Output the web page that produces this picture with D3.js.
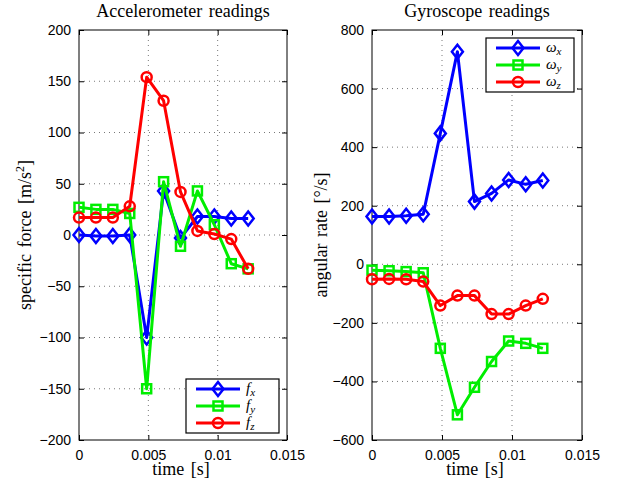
<!DOCTYPE html>
<html>
<head>
<meta charset="utf-8">
<script src="https://cdn.jsdelivr.net/npm/d3@7"></script>
<style>
  body { margin: 0; background: #fff; }
  svg { display: block; }
  .tick text { font-family: "Liberation Sans", Arial, sans-serif; font-size: 14px; fill: #000; }
  .lbl { font-family: "Liberation Serif", "Times New Roman", serif; font-size: 18px; word-spacing: 2px; }
</style>
</head>
<body>
<svg id="chart" width="623" height="487"></svg>
<script>
// sample times [s]
var times = [0, 0.00122, 0.00244, 0.00366, 0.00488, 0.0061, 0.00732, 0.00854, 0.00976, 0.01098, 0.0122];

// accelerometer [m/s^2]
var fx = [0, -1, -1, 0, -100, 43, -3, 18, 18, 16, 16];
var fy = [27, 25, 25, 21, -150, 52, -11, 43, 10, -28, -33];
var fz = [17, 17, 17, 28, 154, 131, 42, 4, 1, -4, -33];

// gyroscope [deg/s]
var wx = [163, 163, 166, 171, 447, 726, 214, 242, 288, 273, 286];
var wy = [-20, -22, -25, -29, -287, -514, -420, -332, -262, -270, -287];
var wz = [-51, -50, -51, -59, -141, -107, -107, -170, -170, -141, -118];

var xTicks = [0, 0.005, 0.01, 0.015];
var accTicks = [-200, -150, -100, -50, 0, 50, 100, 150, 200];
var gyrTicks = [-600, -400, -200, 0, 200, 400, 600, 800];

var svg = d3.select("#chart");

function drawPanel(opt) {
  var left = opt.left, right = opt.right, top = 30, bottom = 440;

  var x = d3.scaleLinear().domain([0, 0.015]).range([left, right]);
  var y = d3.scaleLinear().domain(opt.domain).range([bottom, top]);

  var g = svg.append("g");

  // dotted grid
  g.selectAll(".gx").data(xTicks.slice(1, -1)).enter().append("line")
    .attr("x1", d => x(d)).attr("x2", d => x(d))
    .attr("y1", top).attr("y2", bottom)
    .attr("stroke", "#555").attr("stroke-width", 0.8).attr("stroke-dasharray", "1,4");
  g.selectAll(".gy").data(opt.ticks.slice(1, -1)).enter().append("line")
    .attr("y1", d => y(d)).attr("y2", d => y(d))
    .attr("x1", left).attr("x2", right)
    .attr("stroke", "#555").attr("stroke-width", 0.8).attr("stroke-dasharray", "1,4");

  // axes, ticks pointing inward
  var fmt = function (d) { return d < 0 ? "\u2212" + Math.abs(d) : String(d); };
  var fmtX = function (d) { return d === 0 ? "0" : String(d); };

  g.append("g").attr("transform", "translate(0," + bottom + ")")
    .call(d3.axisBottom(x).tickValues(xTicks).tickSizeInner(-5).tickSizeOuter(0).tickPadding(10).tickFormat(fmtX))
    .call(a => a.select(".domain").remove());
  g.append("g").attr("transform", "translate(0," + top + ")")
    .call(d3.axisTop(x).tickValues(xTicks).tickSizeInner(-5).tickSizeOuter(0).tickFormat(""))
    .call(a => a.select(".domain").remove());
  g.append("g").attr("transform", "translate(" + left + ",0)")
    .call(d3.axisLeft(y).tickValues(opt.ticks).tickSizeInner(-5).tickSizeOuter(0).tickPadding(8).tickFormat(fmt))
    .call(a => a.select(".domain").remove());
  g.append("g").attr("transform", "translate(" + right + ",0)")
    .call(d3.axisRight(y).tickValues(opt.ticks).tickSizeInner(-5).tickSizeOuter(0).tickFormat(""))
    .call(a => a.select(".domain").remove());
  g.selectAll(".tick line").attr("stroke", "#000");

  g.append("rect")
    .attr("x", left).attr("y", top).attr("width", right - left).attr("height", bottom - top)
    .attr("fill", "none").attr("stroke", "#000").attr("stroke-width", 1);

  // series
  var line = d3.line().x((d, i) => x(times[i])).y(d => y(d));
  opt.series.forEach(function (s) {
    g.append("path").datum(s.values)
      .attr("d", line).attr("fill", "none")
      .attr("stroke", s.color).attr("stroke-width", 3).attr("stroke-linejoin", "round");
    var m = g.append("g");
    s.values.forEach(function (v, i) {
      marker(m, s.marker, x(times[i]), y(v), s.color);
    });
  });

  // title and labels
  g.append("text").attr("class", "lbl").attr("x", (left + right) / 2).attr("y", 17)
    .attr("text-anchor", "middle").text(opt.title);
  g.append("text").attr("class", "lbl").attr("x", (left + right) / 2 - 2).attr("y", 475)
    .attr("text-anchor", "middle").text("time [s]");
  var yl = g.append("text").attr("class", "lbl")
    .attr("transform", "translate(" + opt.ylabelX + "," + ((top + bottom) / 2) + ") rotate(-90)")
    .attr("text-anchor", "middle");
  opt.ylabel(yl);

  // legend
  var L = opt.legend;
  var lg = g.append("g");
  lg.append("rect").attr("x", L.x).attr("y", L.y).attr("width", L.w).attr("height", L.h)
    .attr("fill", "#fff").attr("stroke", "#000").attr("stroke-width", 1.2);
  opt.series.forEach(function (s, i) {
    var cy = L.y + 10 + i * 17;
    lg.append("line").attr("x1", L.x + 10).attr("x2", L.x + 54).attr("y1", cy).attr("y2", cy)
      .attr("stroke", s.color).attr("stroke-width", 3);
    marker(lg, s.marker, L.x + 32, cy, s.color);
    var t = lg.append("text").attr("x", L.x + 60).attr("y", cy + 4)
      .style("font-family", "'Liberation Serif', 'Times New Roman', serif").style("font-size", "15px")
      .style("font-style", "italic");
    t.append("tspan").text(s.sym);
    t.append("tspan").attr("dy", 3).style("font-size", "11px").text(s.sub);
  });
}

function marker(g, type, cx, cy, color) {
  if (type === "diamond") {
    g.append("path")
      .attr("d", "M" + cx + "," + (cy - 7) + "L" + (cx + 5.5) + "," + cy + "L" + cx + "," + (cy + 7) + "L" + (cx - 5.5) + "," + cy + "Z")
      .attr("fill", "none").attr("stroke", color).attr("stroke-width", 2.5);
  } else if (type === "square") {
    g.append("rect").attr("x", cx - 4.5).attr("y", cy - 4.5).attr("width", 9).attr("height", 9)
      .attr("fill", "none").attr("stroke", color).attr("stroke-width", 2.5);
  } else {
    g.append("circle").attr("cx", cx).attr("cy", cy).attr("r", 5)
      .attr("fill", "none").attr("stroke", color).attr("stroke-width", 2.5);
  }
}

drawPanel({
  left: 79, right: 287, domain: [-200, 200], ticks: accTicks,
  title: "Accelerometer readings", ylabelX: 31,
  ylabel: function (t) {
    t.append("tspan").text("specific force [m/s");
    t.append("tspan").attr("dy", -7).style("font-size", "12px").text("2");
    t.append("tspan").attr("dy", 7).text("]");
  },
  legend: { x: 186, y: 379, w: 93, h: 54 },
  series: [
    { values: fx, color: "#0000ff", marker: "diamond", sym: "f", sub: "x" },
    { values: fy, color: "#00ee00", marker: "square", sym: "f", sub: "y" },
    { values: fz, color: "#ff0000", marker: "circle", sym: "f", sub: "z" }
  ]
});

drawPanel({
  left: 372, right: 582, domain: [-600, 800], ticks: gyrTicks,
  title: "Gyroscope readings", ylabelX: 327,
  ylabel: function (t) {
    t.text("angular rate [\u00b0/s]");
  },
  legend: { x: 486, y: 38, w: 88, h: 54 },
  series: [
    { values: wx, color: "#0000ff", marker: "diamond", sym: "\u03c9", sub: "x" },
    { values: wy, color: "#00ee00", marker: "square", sym: "\u03c9", sub: "y" },
    { values: wz, color: "#ff0000", marker: "circle", sym: "\u03c9", sub: "z" }
  ]
});
</script>
</body>
</html>
